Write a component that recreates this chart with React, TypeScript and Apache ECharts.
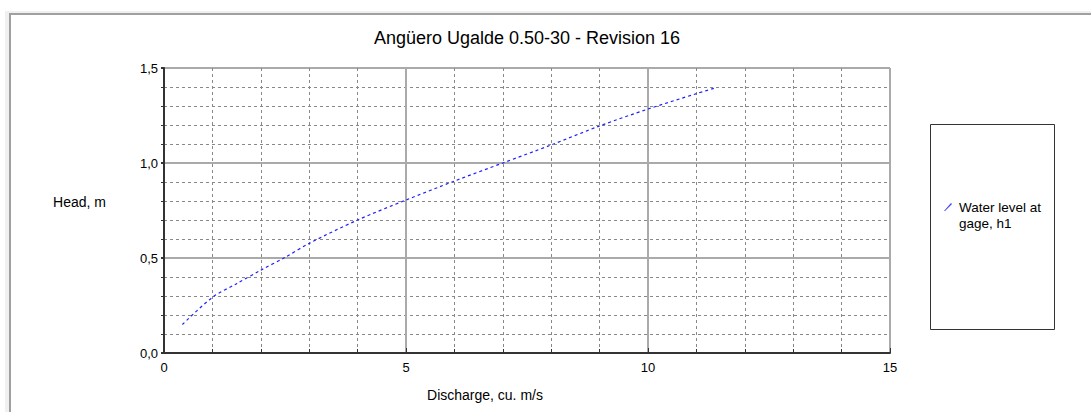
import React, { useEffect, useRef } from "react";
import * as echarts from "echarts";

const discharge = [0.38, 1.0, 1.5, 2.0, 2.5, 3.0, 4.0, 5.0, 6.0, 7.0, 8.0, 9.0, 10.0, 11.0, 11.4];
const head = [0.15, 0.293, 0.365, 0.436, 0.503, 0.577, 0.7, 0.805, 0.905, 1.0, 1.095, 1.195, 1.284, 1.365, 1.396];
const xTicks = [0, 5, 10, 15];
const seriesName = "Water level at gage, h1";
const legendLines = ["Water level at", "gage, h1"];
const titleText = "Angüero Ugalde 0.50-30 - Revision 16";
const xName = "Discharge, cu. m/s";
const yName = "Head, m";

const FONT = "Liberation Sans, Arial, sans-serif";

export default function App() {
  const ref = useRef<HTMLDivElement>(null);
  useEffect(() => {
    if (!ref.current) return;
    const chart = echarts.init(ref.current, null, { renderer: "svg" });
    const points = discharge.map((q, i) => [q, head[i]]);
    chart.setOption({
      animation: false,
      backgroundColor: "#ffffff",
      textStyle: { fontFamily: FONT },
      graphic: [
        { type: "rect", shape: { x: 5, y: 11, width: 1200, height: 500 }, style: { fill: "#f0f0f0" }, z: -10 },
        { type: "rect", shape: { x: 10, y: 14, width: 1200, height: 500 }, style: { fill: "#fff", stroke: "#a0a0a0", lineWidth: 2 }, z: -9 },
        { type: "rect", shape: { x: 930.5, y: 124.5, width: 124, height: 205 }, style: { fill: "none", stroke: "#333", lineWidth: 1 }, z: 1 },
        {
          type: "text",
          x: 527,
          y: 38,
          style: { text: titleText, fontFamily: FONT, fontSize: 18, fill: "#000", align: "center", verticalAlign: "middle" },
        },
        {
          type: "text",
          x: 106,
          y: 202,
          style: { text: yName, fontFamily: FONT, fontSize: 14, fill: "#000", align: "right", verticalAlign: "middle" },
        },
        {
          type: "text",
          x: 485,
          y: 395,
          style: { text: xName, fontFamily: FONT, fontSize: 14, fill: "#000", align: "center", verticalAlign: "middle" },
        },
      ],
      legend: {
        left: 944,
        top: 199,
        padding: 0,
        orient: "vertical",
        icon: "path://M0,8 L1,8 L8,1 L7,0 Z M0,24 L0.01,24 L0,23.99 Z",
        itemWidth: 8,
        itemHeight: 24,
        data: [seriesName],
        formatter: () => legendLines.join("\n"),
        textStyle: { fontFamily: FONT, fontSize: 13.5, color: "#000", lineHeight: 16, padding: [0, 0, 0, 2] },
      },
      grid: {
        left: 164,
        top: 68,
        width: 726,
        height: 285,
        show: true,
        borderColor: "#999",
        borderWidth: 1,
        containLabel: false,
      },
      xAxis: {
        type: "value",
        min: 0,
        max: 15,
        interval: 5,
        axisLine: { show: true, onZero: false, lineStyle: { color: "#333", width: 2 } },
        axisTick: { show: true, inside: true, length: 5, lineStyle: { color: "#333" } },
        minorTick: { show: true, splitNumber: 5, length: 4, lineStyle: { color: "#333" } },
        axisLabel: {
          margin: 8,
          fontFamily: FONT,
          fontSize: 13,
          color: "#000",
          customValues: xTicks,
          formatter: (v: number) => String(v),
        },
        splitLine: { show: true, lineStyle: { color: "#aaa", width: 2 } },
        minorSplitLine: { show: true, lineStyle: { color: "#888", width: 1, type: [3, 3] } },
      },
      yAxis: {
        type: "value",
        min: 0,
        max: 1.5,
        interval: 0.5,
        axisLine: { show: true, onZero: false, lineStyle: { color: "#333", width: 2 } },
        axisTick: { show: true, inside: false, length: 3, lineStyle: { color: "#333", width: 2 } },
        minorTick: { show: true, splitNumber: 5, length: 3, lineStyle: { color: "#333" } },
        axisLabel: {
          margin: 6,
          fontFamily: FONT,
          fontSize: 13,
          color: "#000",
          formatter: (v: number) => v.toFixed(1).replace(".", ","),
        },
        splitLine: { show: true, lineStyle: { color: "#aaa", width: 2 } },
        minorSplitLine: { show: true, lineStyle: { color: "#888", width: 1, type: [3, 3] } },
      },
      series: [
        {
          name: seriesName,
          type: "line",
          data: points,
          smooth: 0.3,
          showSymbol: false,
          symbol: "none",
          lineStyle: { color: "#2020ff", width: 1.2, type: [3, 3] },
          itemStyle: { color: "#4040ff" },
          z: 5,
        },
      ],
    });
    return () => chart.dispose();
  }, []);
  return (
    <div
      ref={ref}
      style={{ position: "fixed", left: 0, top: 0, width: 1091, height: 412 }}
    />
  );
}
